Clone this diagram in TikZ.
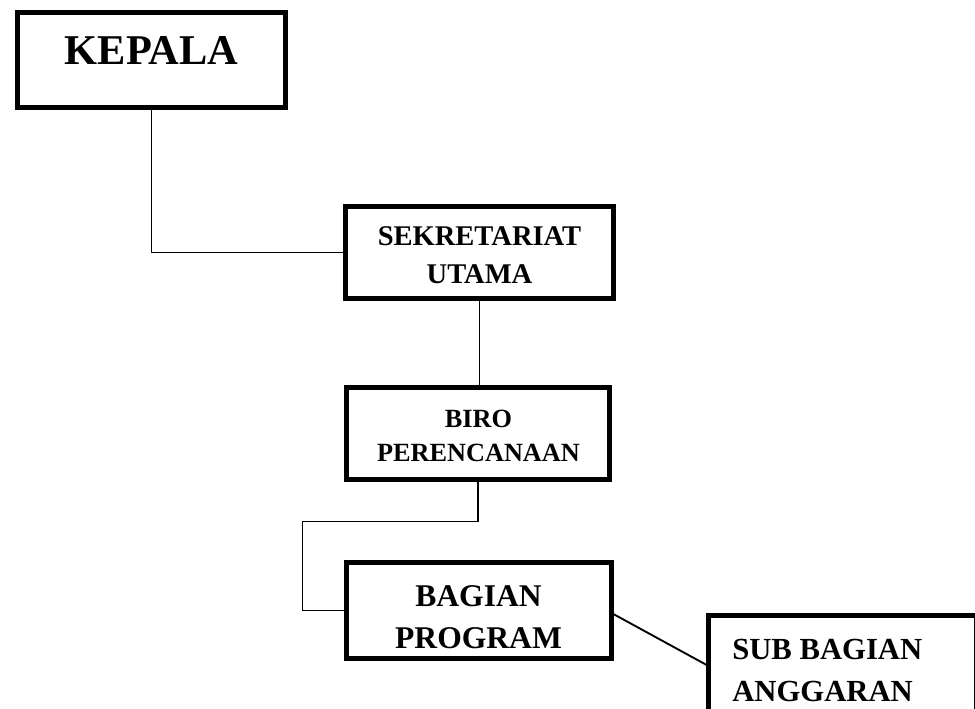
\documentclass[tikz,border=0pt]{standalone}
\usepackage{fontspec}
\setmainfont{Liberation Serif}
\usetikzlibrary{calc}
\begin{document}
\begin{tikzpicture}[x=0.75pt,y=-0.75pt,
  box/.style={draw=black, line width=3.75pt, rectangle, inner sep=0pt, outer sep=0pt, fill=white},
  link/.style={draw=black, line width=1.4pt},
  txt/.style={inner sep=0pt, anchor=base, text=black}]
\path[use as bounding box, clip] (0,0) rectangle (975,709);
\fill[white] (0,0) rectangle (975,709);
% boxes
\node[box, minimum width=268*0.75pt, minimum height=95*0.75pt] (kepala) at (151.5,60) {};
\node[box, minimum width=268*0.75pt, minimum height=92*0.75pt] (sek) at (479.5,252.5) {};
\node[box, minimum width=263*0.75pt, minimum height=92*0.75pt] (biro) at (478,433.5) {};
\node[box, minimum width=265*0.75pt, minimum height=96*0.75pt] (bagian) at (479,610.5) {};
\node[box, minimum width=267.5*0.75pt, minimum height=104.5*0.75pt] (sub) at (842.25,667.75) {};
\coordinate (bend) at ($(bagian.west)+(-44,0)$);
% connectors
\draw[link] (kepala.south) |- (sek.west);
\draw[link] (sek.south) -- (sek.south |- biro.north);
\draw[link] (biro.south) -- ++(0,42) -| (bend) -- (bagian.west);
\draw[link] ($(bagian.east)+(0,2.5)$) -- ($(sub.west)+(0,-1.75)$);
% texts
\node[txt, font=\bfseries\fontsize{31.8}{38}\selectfont] (tkepala) at (151.5,65) {KEPALA};
\node[txt, font=\bfseries\fontsize{21.4}{26}\selectfont] (tsek1) at (479.5,246) {SEKRETARIAT};
\node[txt, font=\bfseries\fontsize{21.4}{26}\selectfont] (tsek2) at (479.5,284) {UTAMA};
\node[txt, font=\bfseries\fontsize{19.7}{24}\selectfont] (tbiro1) at (478.5,427) {BIRO};
\node[txt, font=\bfseries\fontsize{19.7}{24}\selectfont] (tbiro2) at (478.5,461) {PERENCANAAN};
\node[txt, font=\bfseries\fontsize{23.7}{28}\selectfont] (tbag1) at (478.5,606) {BAGIAN};
\node[txt, font=\bfseries\fontsize{23.7}{28}\selectfont] (tbag2) at (478.5,648) {PROGRAM};
\node[txt, anchor=base west, font=\bfseries\fontsize{23}{28}\selectfont] (tsub1) at (732,659) {SUB BAGIAN};
\node[txt, anchor=base west, font=\bfseries\fontsize{23}{28}\selectfont] (tsub2) at (732,701) {ANGGARAN};
\end{tikzpicture}
\end{document}
